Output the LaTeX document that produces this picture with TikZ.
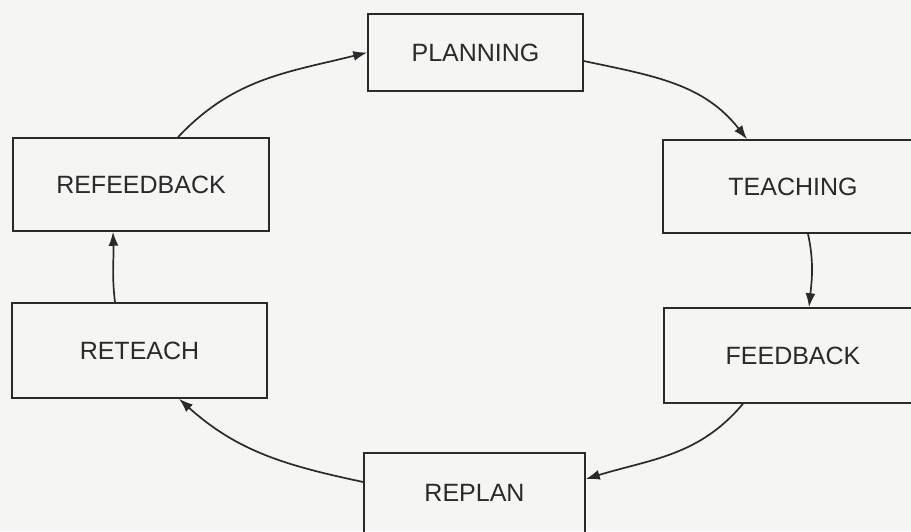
\documentclass[tikz,border=0pt]{standalone}
\usepackage{fontspec}
\setmainfont{Liberation Sans}
\usetikzlibrary{arrows.meta}
\definecolor{ink}{HTML}{2A2A2A}
\definecolor{paper}{HTML}{F5F5F3}
\begin{document}
\begin{tikzpicture}[x=1pt,y=-1pt,
  stagebox/.style={draw=ink, line width=1.5pt, rectangle, inner sep=0pt,
    text=ink, font=\fontsize{25}{30}\selectfont},
  flow/.style={draw=ink, line width=1.7pt, -{Latex[length=14pt,width=10pt]}}]
\fill[paper] (0,0) rectangle (911,531);
\useasboundingbox (0,0) rectangle (911,531);
\node[stagebox, minimum width=215pt, minimum height=77pt] (plan) at (475.5,52.5) {PLANNING};
\node[stagebox, minimum width=260pt, minimum height=93pt] (teach) at (793,186.5) {TEACHING};
\node[stagebox, minimum width=258pt, minimum height=95pt] (fb) at (793,355.5) {FEEDBACK};
\node[stagebox, minimum width=221pt, minimum height=80pt] (replan) at (474.5,493) {REPLAN};
\node[stagebox, minimum width=255pt, minimum height=95pt] (reteach) at (139.5,350.5) {RETEACH};
\node[stagebox, minimum width=256pt, minimum height=93pt] (rfb) at (141,184.5) {REFEEDBACK};
\draw[flow] ([xshift=37pt]rfb.north) to[out=47,in=194] (plan.west);
\draw[flow] ([yshift=-8.5pt]plan.east) to[out=-12,in=128] ([xshift=-46pt]teach.north);
\draw[flow] ([xshift=15pt]teach.south) to[out=-78,in=84] ([xshift=16pt]fb.north);
\draw[flow] ([xshift=-50pt]fb.south) to[out=-130,in=17] ([yshift=14pt]replan.east);
\draw[flow] ([yshift=11pt]replan.west) to[out=168,in=-42] ([xshift=39.5pt]reteach.south);
\draw[flow] ([xshift=-24.5pt]reteach.north) to[out=97,in=-88] ([xshift=-28pt]rfb.south);
\end{tikzpicture}
\end{document}
